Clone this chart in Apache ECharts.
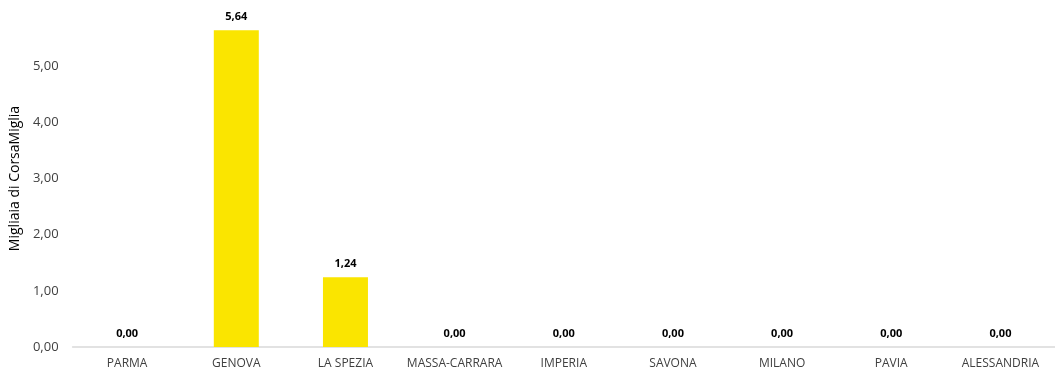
<!DOCTYPE html>
<html><head><meta charset="utf-8">
<script src="https://cdn.jsdelivr.net/npm/echarts@6/dist/echarts.min.js"></script>
<style>html,body{margin:0;padding:0;background:#fff}#c{width:1055px;height:372px}</style>
</head><body><div id="c"></div>
<script>
const categories = ["PARMA","GENOVA","LA SPEZIA","MASSA-CARRARA","IMPERIA","SAVONA","MILANO","PAVIA","ALESSANDRIA"];
const values = [0, 5.64, 1.24, 0, 0, 0, 0, 0, 0];
const yAxisName = "Migliaia di CorsaMiglia";
const fmt = v => v.toFixed(2).replace('.', ',');
const chart = echarts.init(document.getElementById('c'));
const font = "'Open Sans', sans-serif";
chart.setOption({
  animation: false,
  grid: {left: 68, right: 0, top: 10, bottom: 25},
  xAxis: {
    type: 'category', data: categories,
    axisLine: {lineStyle: {color: '#d9d9d9', width: 1.5}},
    axisTick: {show: false},
    axisLabel: {color: '#404040', fontSize: 12, margin: 11, fontFamily: font, interval: 0}
  },
  yAxis: {
    type: 'value', min: 0, max: 6, interval: 1,
    name: yAxisName, nameLocation: 'middle', nameGap: 50,
    nameTextStyle: {color: '#000', fontSize: 14, fontFamily: font},
    axisLine: {show: false}, axisTick: {show: false}, splitLine: {show: false},
    axisLabel: {color: '#404040', fontSize: 13, margin: 14, fontFamily: font,
      formatter: v => v >= 6 ? '' : fmt(v)}
  },
  series: [{
    type: 'bar', data: values, barWidth: 45,
    itemStyle: {color: '#FAE500'},
    label: {show: true, position: 'top', distance: 8, formatter: p => fmt(p.value),
      color: '#000', fontWeight: 'bold', fontSize: 11, fontFamily: font}
  }]
});
</script></body></html>
